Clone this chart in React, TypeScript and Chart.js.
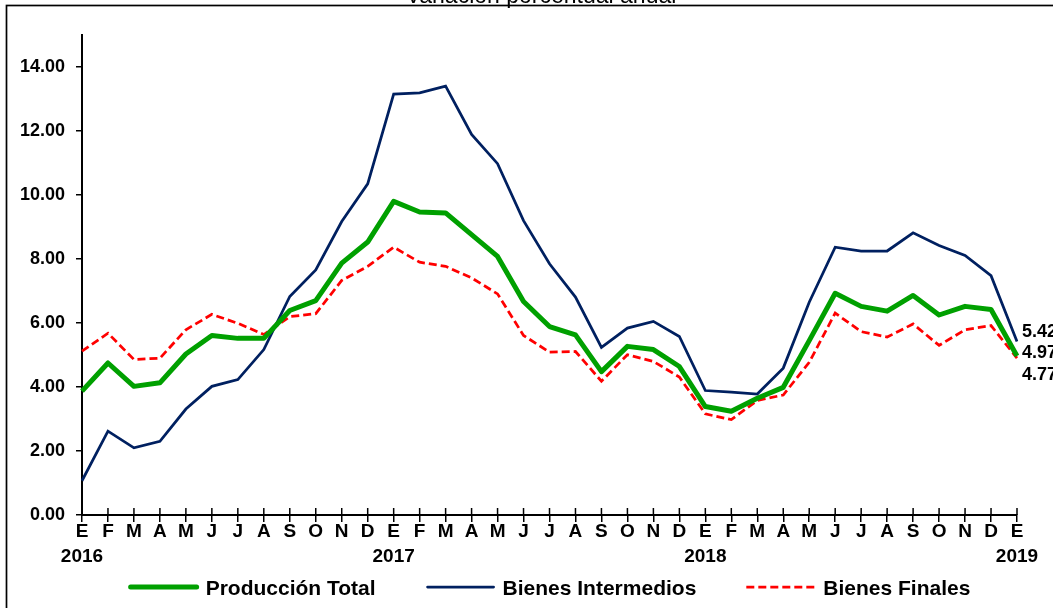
import React, { useEffect, useRef } from "react";
import { Chart, registerables } from "chart.js";

Chart.register(...registerables);

const FONT = '"Liberation Sans", Arial, Helvetica, sans-serif';

const TITLE = "Variación porcentual anual";
const MONTHS = ["E", "F", "M", "A", "M", "J", "J", "A", "S", "O", "N", "D"];
const YEARS = ["2016", "2017", "2018", "2019"];

const SERIES_NAMES = ["Producción Total", "Bienes Intermedios", "Bienes Finales"];

const produccionTotal = [
  3.87, 4.75, 4.02, 4.13, 5.03, 5.61, 5.52, 5.52, 6.39, 6.70, 7.87, 8.53,
  9.80, 9.47, 9.44, 8.76, 8.08, 6.67, 5.89, 5.63, 4.48, 5.27, 5.17, 4.64,
  3.39, 3.24, 3.65, 3.99, 5.45, 6.93, 6.52, 6.37, 6.86, 6.25, 6.52, 6.42,
  4.97,
];

const bienesIntermedios = [
  1.07, 2.62, 2.10, 2.30, 3.31, 4.02, 4.23, 5.17, 6.83, 7.66, 9.17, 10.35,
  13.15, 13.19, 13.40, 11.89, 10.98, 9.20, 7.85, 6.81, 5.24, 5.84, 6.05, 5.58,
  3.89, 3.84, 3.78, 4.59, 6.65, 8.37, 8.25, 8.25, 8.82, 8.42, 8.11, 7.48,
  5.42,
];

const bienesFinales = [
  5.12, 5.68, 4.86, 4.90, 5.79, 6.27, 5.99, 5.64, 6.20, 6.29, 7.33, 7.77,
  8.37, 7.90, 7.77, 7.41, 6.91, 5.61, 5.09, 5.11, 4.18, 5.01, 4.80, 4.31,
  3.16, 2.98, 3.58, 3.75, 4.77, 6.31, 5.73, 5.56, 5.97, 5.30, 5.79, 5.92,
  4.90,
];

const END_LABELS = ["5.42", "4.97", "4.77"];

const Y_MIN = 0;
const Y_MAX = 15;
const Y_STEP = 2;
const Y_LAST_LABEL = 14;

const categories: (string | string[])[] = [];
for (let y = 0; y < 3; y++) {
  for (let m = 0; m < 12; m++) {
    categories.push(m === 0 ? [MONTHS[m], YEARS[y]] : MONTHS[m]);
  }
}
categories.push([MONTHS[0], YEARS[3]]);

const decorPlugin = {
  id: "decor",
  afterDraw(chart: any) {
    const ctx = chart.ctx as CanvasRenderingContext2D;
    const xs = chart.scales.x;
    const ys = chart.scales.y;
    const area = chart.chartArea;
    ctx.save();

    // outer frame
    ctx.strokeStyle = "#000";
    ctx.lineWidth = 1.7;
    ctx.setLineDash([]);
    ctx.strokeRect(6.5, 5.5, 1200, 800);

    // title (cut off at top)
    ctx.fillStyle = "#000";
    ctx.font = `23px ${FONT}`;
    ctx.textAlign = "center";
    ctx.textBaseline = "alphabetic";
    ctx.fillText(TITLE, 541, 2.5);

    // upper halves of x tick marks
    ctx.strokeStyle = "#000";
    ctx.lineWidth = 1.5;
    for (let i = 0; i < xs.ticks.length; i++) {
      const px = xs.getPixelForTick(i);
      ctx.beginPath();
      ctx.moveTo(px, area.bottom - 7);
      ctx.lineTo(px, area.bottom);
      ctx.stroke();
    }

    // end labels
    const lastIdx = categories.length - 1;
    const lx = xs.getPixelForValue(lastIdx) + 5;
    const topY = ys.getPixelForValue(bienesIntermedios[lastIdx]) - 5;
    ctx.font = `bold 18px ${FONT}`;
    ctx.textAlign = "left";
    END_LABELS.forEach((t, i) => {
      ctx.fillText(t, lx, topY + i * 21.5);
    });

    // legend
    ctx.font = `bold 21px ${FONT}`;
    const lineW = 70;
    const gap = 7;
    const itemGap = 50;
    const dsets = chart.data.datasets;
    const widths = dsets.map((d: any) => ctx.measureText(d.label).width);
    const total =
      widths.reduce((a: number, b: number) => a + b, 0) +
      dsets.length * (lineW + gap) +
      (dsets.length - 1) * itemGap;
    let cx = (area.left + area.right) / 2 - total / 2;
    const ly = 587;
    dsets.forEach((d: any, i: number) => {
      ctx.strokeStyle = d.borderColor;
      ctx.lineWidth = d.borderWidth;
      const dash = d.borderDash || [];
      ctx.setLineDash(dash);
      ctx.lineCap = dash.length ? "butt" : "round";
      ctx.beginPath();
      ctx.moveTo(cx + (dash.length ? 0 : 2), ly);
      ctx.lineTo(cx + lineW - (dash.length ? 0 : 2), ly);
      ctx.stroke();
      ctx.setLineDash([]);
      ctx.fillStyle = "#000";
      ctx.textAlign = "left";
      ctx.textBaseline = "alphabetic";
      ctx.fillText(d.label, cx + lineW + gap, 595);
      cx += lineW + gap + widths[i] + itemGap;
    });

    ctx.restore();
  },
};

export default function App() {
  const ref = useRef<HTMLCanvasElement | null>(null);

  useEffect(() => {
    if (!ref.current) return;
    const chart = new Chart(ref.current, {
      type: "line",
      data: {
        labels: categories,
        datasets: [
          {
            label: SERIES_NAMES[0],
            data: produccionTotal,
            borderColor: "#00a000",
            borderWidth: 5,
            pointRadius: 0,
            tension: 0,
            borderJoinStyle: "round",
          },
          {
            label: SERIES_NAMES[1],
            data: bienesIntermedios,
            borderColor: "#002060",
            borderWidth: 2.75,
            pointRadius: 0,
            tension: 0,
          },
          {
            label: SERIES_NAMES[2],
            data: bienesFinales,
            borderColor: "#ff0000",
            borderWidth: 2.75,
            borderDash: [8, 4],
            pointRadius: 0,
            tension: 0,
          },
        ],
      },
      options: {
        responsive: false,
        animation: false,
        devicePixelRatio: 1,
        layout: { padding: { left: 0, right: 36, top: 35, bottom: 33 } },
        plugins: {
          legend: { display: false },
          tooltip: { enabled: false },
          title: { display: false },
        },
        scales: {
          x: {
            type: "category",
            offset: false,
            grid: {
              drawOnChartArea: false,
              drawTicks: true,
              tickLength: 7,
              color: "#000",
              lineWidth: 1.5,
            },
            border: { display: true, color: "#000", width: 2 },
            ticks: {
              autoSkip: false,
              maxRotation: 0,
              minRotation: 0,
              color: "#000",
              padding: -2.5,
              font: { family: FONT, size: 19, weight: "bold", lineHeight: 1.316 },
            },
            afterFit: (s: any) => {
              s.height = 60;
            },
          },
          y: {
            min: Y_MIN,
            max: Y_MAX,
            ticks: {
              stepSize: Y_STEP,
              color: "#000",
              padding: 11,
              font: { family: FONT, size: 18, weight: "bold" },
              callback: (v: any) => Number(v).toFixed(2),
            },
            afterBuildTicks: (s: any) => {
              s.ticks = s.ticks.filter((t: any) => t.value <= Y_LAST_LABEL);
            },
            grid: {
              drawOnChartArea: false,
              drawTicks: true,
              tickLength: 6,
              color: "#000",
              lineWidth: 1.5,
            },
            border: { display: true, color: "#000", width: 2 },
            afterFit: (s: any) => {
              s.width = 82;
            },
          },
        },
      } as any,
      plugins: [decorPlugin],
    });
    return () => chart.destroy();
  }, []);

  return (
    <div style={{ position: "absolute", left: 0, top: 0, width: 1053, height: 608, background: "#fff" }}>
      <canvas ref={ref} width={1053} height={608} style={{ display: "block" }} />
    </div>
  );
}
